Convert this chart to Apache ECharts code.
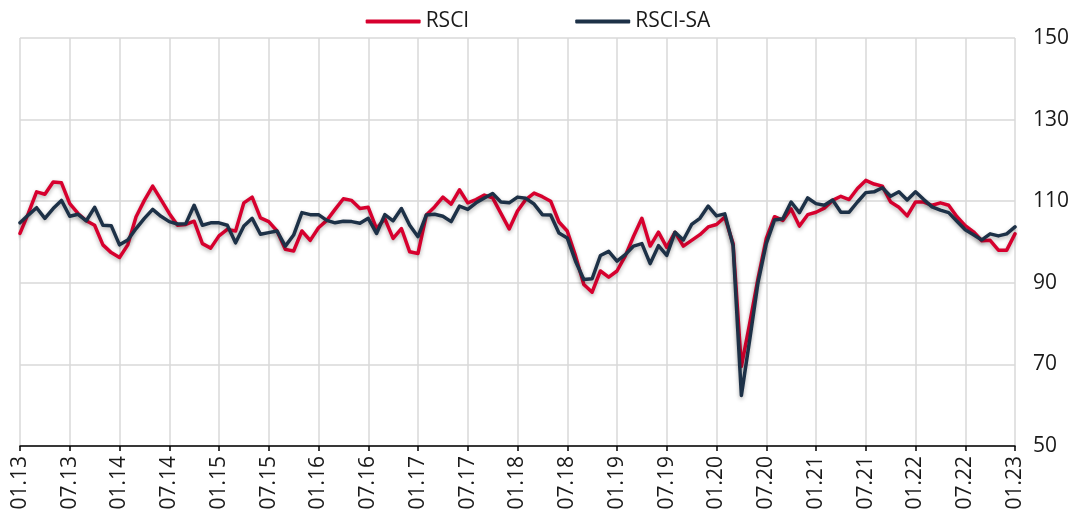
<!DOCTYPE html>
<html>
<head>
<meta charset="utf-8">
<script src="https://cdn.jsdelivr.net/npm/echarts@6/dist/echarts.min.js"></script>
<style>
html,body{margin:0;padding:0;background:#fff;}
#chart{width:1076px;height:520px;}
</style>
</head>
<body>
<div id="chart"></div>
<script>
// Monthly categories 01.13 .. 01.23
var startYear = 13, endYear = 23;
var categories = [];
for (var y = startYear; y <= endYear; y++) {
  for (var m = 1; m <= 12; m++) {
    if (y === endYear && m > 1) break;
    categories.push((m < 10 ? '0' + m : '' + m) + '.' + y);
  }
}

var seriesNames = ['RSCI', 'RSCI-SA'];

var rsci = [
  102.1, 107.0, 112.3, 111.7, 114.7, 114.5, 109.4, 107.0, 105.2, 104.1, 99.3, 97.4,
  96.2, 99.3, 106.2, 110.2, 113.7, 110.4, 107.0, 104.1, 104.3, 105.1, 99.6, 98.5,
  101.5, 103.1, 102.7, 109.6, 111.0, 105.9, 105.0, 102.7, 98.2, 97.8, 102.7, 100.4,
  103.5, 105.3, 108.0, 110.6, 110.2, 108.2, 108.5, 103.3, 105.7, 100.9, 103.3, 97.6,
  97.2, 106.6, 108.6, 111.0, 109.3, 112.8, 109.6, 110.4, 111.5, 110.8, 107.0, 103.2,
  107.6, 110.4, 112.0, 111.1, 110.0, 104.9, 102.7, 96.6, 89.6, 87.7, 92.9, 91.4,
  92.9, 96.6, 101.4, 105.8, 99.0, 102.4, 98.7, 102.4, 99.0, 100.4, 101.8, 103.7,
  104.3, 106.1, 99.6, 69.5, 80.0, 91.0, 100.8, 106.2, 105.3, 108.1, 103.9, 106.7,
  107.3, 108.3, 110.2, 111.2, 110.4, 113.1, 115.1, 114.2, 113.7, 109.8, 108.5, 106.4,
  109.8, 109.8, 109.0, 109.6, 109.0, 106.2, 104.0, 102.5, 100.3, 100.4, 98.0, 98.0,
  102.0
];

var rsciSA = [
  104.7, 106.6, 108.4, 105.8, 108.2, 110.2, 106.3, 106.8, 105.2, 108.5, 104.1, 104.0,
  99.3, 100.5, 103.3, 105.8, 108.0, 106.3, 105.0, 104.4, 104.5, 109.0, 104.1, 104.7,
  104.7, 104.1, 99.8, 103.9, 105.8, 101.9, 102.3, 102.7, 99.0, 101.7, 107.2, 106.7,
  106.7, 105.3, 104.7, 105.1, 105.0, 104.6, 105.8, 102.1, 106.7, 105.2, 108.2, 104.1,
  101.3, 106.6, 106.8, 106.3, 105.0, 108.8, 108.0, 109.6, 110.8, 111.9, 109.8, 109.6,
  111.0, 110.7, 109.3, 106.7, 106.6, 102.2, 101.0, 95.3, 90.8, 91.0, 96.7, 97.7,
  95.3, 96.9, 99.0, 99.6, 94.7, 99.1, 96.7, 102.4, 100.5, 104.3, 105.8, 108.8,
  106.4, 106.9, 99.1, 62.4, 76.0, 90.0, 99.6, 105.4, 105.7, 109.8, 107.2, 110.8,
  109.4, 109.0, 110.3, 107.3, 107.3, 109.8, 112.1, 112.3, 113.3, 111.2, 112.3, 110.3,
  112.3, 110.4, 108.6, 107.8, 107.2, 105.1, 103.0, 101.8, 100.5, 102.0, 101.5, 102.0,
  103.7
];

var yMin = 50, yMax = 150, yStep = 20;

var chart = echarts.init(document.getElementById('chart'), null, {renderer: 'canvas'});
var font = '"Open Sans", "Noto Sans", sans-serif';
var gridColor = '#d9d9d9';
var textColor = '#1a1a1a';

chart.setOption({
  animation: false,
  backgroundColor: '#ffffff',
  textStyle: {fontFamily: font},
  legend: {
    top: 6,
    left: 'center',
    itemGap: 106,
    itemWidth: 55,
    itemHeight: 4,
    icon: 'roundRect',
    textStyle: {fontFamily: font, fontSize: 21, color: textColor},
    data: seriesNames
  },
  grid: {left: 20, right: 61, top: 38, bottom: 74, containLabel: false},
  xAxis: {
    type: 'category',
    data: categories,
    boundaryGap: false,
    axisLine: {show: true, onZero: false, lineStyle: {color: '#000', width: 1.5}},
    axisTick: {show: true, interval: 5, length: 5, lineStyle: {color: '#000', width: 1.5}},
    axisLabel: {
      interval: 5, rotate: 90, margin: 10,
      fontFamily: font, fontSize: 21, color: textColor
    },
    splitLine: {show: true, interval: 5, lineStyle: {color: gridColor, width: 1.5}}
  },
  yAxis: {
    type: 'value',
    position: 'right',
    min: yMin, max: yMax, interval: yStep,
    axisLine: {show: false},
    axisTick: {show: false},
    axisLabel: {margin: 18, fontFamily: font, fontSize: 21, color: textColor},
    splitLine: {show: true, lineStyle: {color: gridColor, width: 1.5}}
  },
  series: [
    {
      name: seriesNames[0], type: 'line', data: rsci, showSymbol: false, symbol: 'none',
      color: '#d7002e',
      lineStyle: {width: 3.5, color: '#d7002e', shadowColor: 'rgba(0,0,0,0.3)', shadowBlur: 4, shadowOffsetY: 2, cap: 'round', join: 'round'},
      z: 2
    },
    {
      name: seriesNames[1], type: 'line', data: rsciSA, showSymbol: false, symbol: 'none',
      color: '#1d3147',
      lineStyle: {width: 3.5, color: '#1d3147', shadowColor: 'rgba(0,0,0,0.3)', shadowBlur: 4, shadowOffsetY: 2, cap: 'round', join: 'round'},
      z: 3
    }
  ]
});
</script>
</body>
</html>
